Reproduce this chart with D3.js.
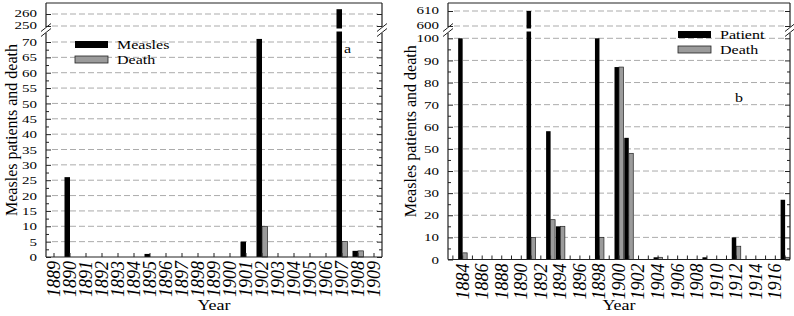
<!DOCTYPE html>
<html lang="en">
<head>
<meta charset="UTF-8">
<title>Measles patients and death</title>
<style>
  body { margin: 0; background: #fff; }
  svg text { font-family: "Liberation Serif", "Times New Roman", serif; fill: #000; }
</style>
</head>
<body>
<div id="chart"></div>
<script src="https://d3js.org/d3.v7.min.js"></script>
<script>
// ---- panel a data ----
const yearsA = [1889, 1890, 1891, 1892, 1893, 1894, 1895, 1896, 1897, 1898, 1899,
                1900, 1901, 1902, 1903, 1904, 1905, 1906, 1907, 1908, 1909];
const measlesA = [0, 26, 0, 0, 0, 0, 1, 0, 0, 0, 0, 0, 5, 71, 0, 0, 0, 0, 264, 2, 0];
const deathA   = [0, 0, 0, 0, 0, 0, 0, 0, 0, 0, 0, 0, 0, 10, 0, 0, 0, 0, 5, 2, 0];
const labelYearsA = yearsA;
const lowTicksA = [0, 5, 10, 15, 20, 25, 30, 35, 40, 45, 50, 55, 60, 65, 70];
const upTicksA = [250, 260];

// ---- panel b data ----
const yearsB = [1883, 1884, 1885, 1886, 1887, 1888, 1889, 1890, 1891, 1892, 1893, 1894,
                1895, 1896, 1897, 1898, 1899, 1900, 1901, 1902, 1903, 1904, 1905, 1906,
                1907, 1908, 1909, 1910, 1911, 1912, 1913, 1914, 1915, 1916, 1917];
const patientB = [0, 100, 0, 0, 0, 0, 0, 0, 610, 0, 58, 15, 0, 0, 0, 100, 0, 87, 55, 0,
                  0, 1, 0, 0, 0, 0, 1, 0, 0, 10, 0, 0, 0, 0, 27];
const deathB   = [0, 3, 0, 0, 0, 0, 0, 0, 10, 0, 18, 15, 0, 0, 0, 10, 0, 87, 48, 0,
                  0, 1, 0, 0, 0, 0, 0, 0, 0, 6, 0, 0, 0, 0, 1];
const labelYearsB = [1884, 1886, 1888, 1890, 1892, 1894, 1896, 1898, 1900, 1902, 1904,
                     1906, 1908, 1910, 1912, 1914, 1916];
const lowTicksB = [0, 10, 20, 30, 40, 50, 60, 70, 80, 90, 100];
const upTicksB = [600, 610];

const svg = d3.select("#chart").append("svg")
    .attr("width", 794)
    .attr("height", 316);

// text in the original is a little squashed vertically
const squash = "scale(1,0.8)";

function drawPanel(p) {
    const g = svg.append("g");

    const x = d3.scaleBand().domain(p.years).range([p.x0, p.x1]);
    const low = d3.scaleLinear().domain(p.lowDomain).range(p.lowRange);
    const up = d3.scaleLinear().domain(p.upDomain).range(p.upRange);
    const yPos = v => (v > p.lowMax ? up(v) : low(v));
    const yBot = low(0);
    const cx = d => x(d) + x.bandwidth() / 2;

    // dashed grid
    const grid = p.lowTicks.concat(p.upTicks).filter(v => v > 0);
    g.selectAll(".grid")
        .data(grid)
        .enter().append("line")
        .attr("x1", p.x0 + 6).attr("x2", p.x1 - 4)
        .attr("y1", d => yPos(d)).attr("y2", d => yPos(d))
        .attr("stroke", "#ababab")
        .attr("stroke-width", 1)
        .attr("stroke-dasharray", "6,3");

    const rows = p.years.map((yr, i) => ({ yr: yr, a: p.black[i], b: p.grey[i] }));

    // bars
    g.selectAll(".barA")
        .data(rows.filter(d => d.a > 0))
        .enter().append("rect")
        .attr("x", d => cx(d.yr) - p.bw)
        .attr("width", p.bw)
        .attr("y", d => yPos(d.a))
        .attr("height", d => yBot - yPos(d.a))
        .attr("fill", "#000");

    g.selectAll(".barB")
        .data(rows.filter(d => d.b > 0))
        .enter().append("rect")
        .attr("x", d => cx(d.yr))
        .attr("width", p.bw)
        .attr("y", d => yPos(d.b))
        .attr("height", d => yBot - yPos(d.b))
        .attr("fill", "#9b9b9b")
        .attr("stroke", "#222")
        .attr("stroke-width", 0.7);

    // white gap across bars that pass the break
    g.selectAll(".gap")
        .data(rows.filter(d => d.a > p.lowMax))
        .enter().append("rect")
        .attr("x", d => cx(d.yr) - p.bw - 1)
        .attr("width", p.bw + 2)
        .attr("y", p.breakY - 1.5)
        .attr("height", 3)
        .attr("fill", "#fff");

    // y axes (inward ticks, mirrored on right)
    const styleAxis = sel => {
        sel.select(".domain").remove();
        sel.selectAll("line").attr("stroke", "#222");
        sel.selectAll("text")
            .attr("font-size", 15)
            .attr("font-family", "Liberation Serif, serif")
            .attr("fill", "#000")
            .attr("transform", "scale(1,0.75)");
    };
    const minorLow = p.lowTicks.slice(0, -1).map((v, i) => (v + p.lowTicks[i + 1]) / 2);

    g.append("g").attr("transform", `translate(${p.x0},0)`)
        .call(d3.axisLeft(low).tickValues(p.lowTicks).tickSize(-5).tickPadding(9))
        .call(styleAxis);
    g.append("g").attr("transform", `translate(${p.x0},0)`)
        .call(d3.axisLeft(low).tickValues(minorLow).tickSize(-3).tickFormat(""))
        .call(styleAxis);
    g.append("g").attr("transform", `translate(${p.x0},0)`)
        .call(d3.axisLeft(up).tickValues(p.upTicks).tickSize(-5).tickPadding(9))
        .call(styleAxis)
        .selectAll("text").attr("dy", "0.25em");
    g.append("g").attr("transform", `translate(${p.x1},0)`)
        .call(d3.axisRight(low).tickValues(p.lowTicks).tickSize(-5).tickFormat(""))
        .call(styleAxis);
    g.append("g").attr("transform", `translate(${p.x1},0)`)
        .call(d3.axisRight(low).tickValues(minorLow).tickSize(-3).tickFormat(""))
        .call(styleAxis);
    g.append("g").attr("transform", `translate(${p.x1},0)`)
        .call(d3.axisRight(up).tickValues(p.upTicks).tickSize(-5).tickFormat(""))
        .call(styleAxis);

    // x axis: inward ticks and rotated italic labels
    g.append("g").attr("transform", `translate(0,${yBot})`)
        .call(d3.axisBottom(x).tickValues(p.years).tickSize(-4).tickFormat(""))
        .call(styleAxis);
    const xa = g.append("g").attr("transform", `translate(0,${yBot})`)
        .call(d3.axisBottom(x).tickValues(p.labelYears).tickSize(0))
        .call(styleAxis);
    xa.selectAll("text")
        .attr("font-size", 18)
        .attr("font-style", "italic")
        .attr("text-anchor", "end")
        .attr("transform", "rotate(-90)")
        .attr("x", -4)
        .attr("y", 0)
        .attr("dy", "0.33em");

    // frame with broken sides
    const frame = "#222";
    [[p.x0, p.yTop, p.x1, p.yTop], [p.x0, yBot, p.x1, yBot],
     [p.x0, p.yTop, p.x0, p.breakY - 3], [p.x0, p.breakY + 3, p.x0, yBot],
     [p.x1, p.yTop, p.x1, p.breakY - 3], [p.x1, p.breakY + 3, p.x1, yBot]]
        .forEach(s => g.append("line")
            .attr("x1", s[0]).attr("y1", s[1]).attr("x2", s[2]).attr("y2", s[3])
            .attr("stroke", frame).attr("stroke-width", 1.2));
    [p.x0, p.x1].forEach(bx => {
        [-2.5, 2.5].forEach(off => {
            g.append("line")
                .attr("x1", bx - 5).attr("y1", p.breakY + off + 4)
                .attr("x2", bx + 5).attr("y2", p.breakY + off - 4)
                .attr("stroke", frame).attr("stroke-width", 1);
        });
    });

    // titles
    g.append("text")
        .attr("transform", `translate(${p.titleX},${(p.yTop + yBot) / 2}) rotate(-90)`)
        .attr("text-anchor", "middle")
        .attr("font-size", 16)
        .text("Measles patients and death");
    g.append("text")
        .attr("transform", `translate(${(p.x0 + p.x1) / 2},310) ${squash}`)
        .attr("text-anchor", "middle")
        .attr("font-size", 18)
        .text("Year");

    // legend
    const lg = g.append("g").attr("transform", `translate(${p.legX},${p.legY})`);
    lg.append("rect").attr("x", 0).attr("y", 0).attr("width", 33).attr("height", 7).attr("fill", "#000");
    lg.append("rect").attr("x", 0).attr("y", 15).attr("width", 33).attr("height", 7)
        .attr("fill", "#9b9b9b").attr("stroke", "#222").attr("stroke-width", 0.8);
    lg.append("text").attr("transform", `translate(42,8) ${squash}`).attr("font-size", 16).text(p.names[0]);
    lg.append("text").attr("transform", `translate(42,23) ${squash}`).attr("font-size", 16).text(p.names[1]);

    g.append("text")
        .attr("transform", `translate(${p.letter[0]},${p.letter[1]}) ${squash}`)
        .attr("font-size", 16)
        .text(p.letter[2]);
}

drawPanel({
    years: yearsA, black: measlesA, grey: deathA, labelYears: labelYearsA,
    lowTicks: lowTicksA, upTicks: upTicksA,
    x0: 46, x1: 382, yTop: 3, breakY: 30, bw: 5.5,
    lowDomain: [0, 70], lowRange: [257, 42], lowMax: 100,
    upDomain: [250, 260], upRange: [26, 14],
    titleX: 17, legX: 75, legY: 41, names: ["Measles", "Death"],
    letter: [344, 53, "a"]
});

drawPanel({
    years: yearsB, black: patientB, grey: deathB, labelYears: labelYearsB,
    lowTicks: lowTicksB, upTicks: upTicksB,
    x0: 448, x1: 790, yTop: 3, breakY: 30, bw: 4.5,
    lowDomain: [0, 100], lowRange: [259.5, 38.3], lowMax: 100,
    upDomain: [600, 610], upRange: [26, 11],
    titleX: 416, legX: 678, legY: 31, names: ["Patient", "Death"],
    letter: [735, 102, "b"]
});
</script>
</body>
</html>
